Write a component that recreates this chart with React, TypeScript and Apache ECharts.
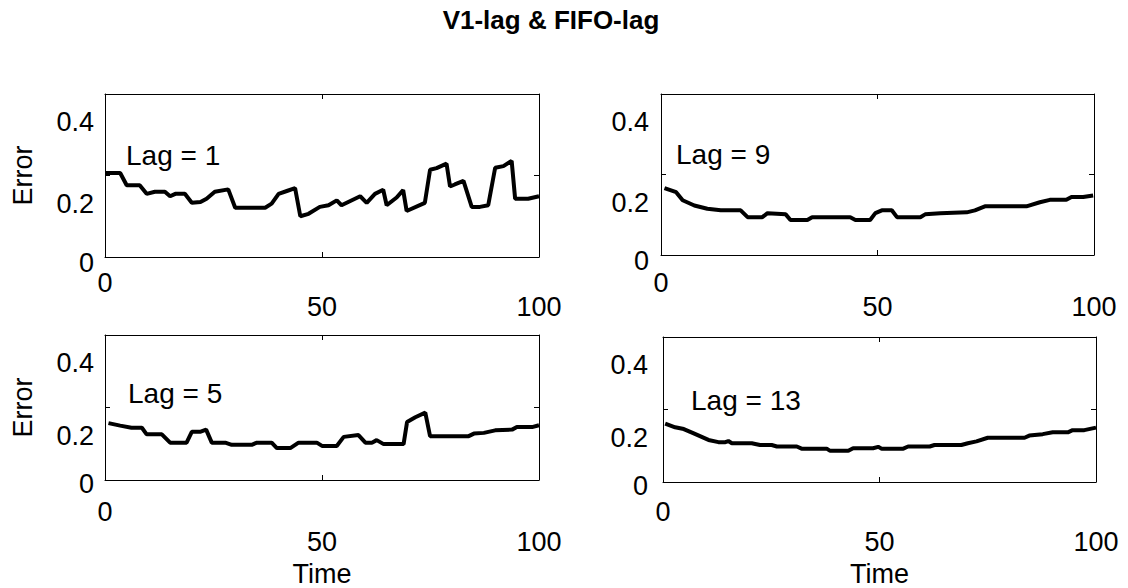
import React, { useEffect, useRef } from "react";
import * as echarts from "echarts";

const titleText = "V1-lag & FIFO-lag";
const xTicks = [0, 50, 100];
const yTicks = [0, 0.2, 0.4];
const panelLabels = ["Lag = 1", "Lag = 9", "Lag = 5", "Lag = 13"];
const yName = "Error";
const xName = "Time";

const lag1: [number, number][] = [
  [0, 0.206], [3.5, 0.206], [5, 0.176], [8, 0.176], [9.6, 0.155], [11.5, 0.16], [13.8, 0.16],
  [15, 0.149], [16.2, 0.155], [18.4, 0.155], [20, 0.133], [22, 0.135], [23.4, 0.143],
  [25.3, 0.16], [28.4, 0.166], [30, 0.121], [36.9, 0.121], [38.4, 0.131], [40, 0.155],
  [41.9, 0.162], [43.8, 0.169], [45, 0.1], [46.9, 0.106], [49.5, 0.123], [51.5, 0.127],
  [53.4, 0.139], [54.5, 0.127], [58.8, 0.149], [60.3, 0.133], [62.2, 0.155], [64.1, 0.165],
  [64.9, 0.127], [67.2, 0.146], [68.7, 0.164], [69.5, 0.113], [73.7, 0.133], [74.9, 0.214],
  [76.4, 0.218], [78.7, 0.229], [79.5, 0.173], [80.6, 0.178], [82.6, 0.187], [84.5, 0.123],
  [86.4, 0.123], [88.3, 0.127], [89.9, 0.219], [91.8, 0.223], [93.7, 0.236], [94.5, 0.143],
  [97.5, 0.143], [100, 0.149],
];

const lag9: [number, number][] = [
  [0.8, 0.166], [3.5, 0.156], [5, 0.136], [7.7, 0.123], [10.7, 0.115], [13.8, 0.111],
  [18.4, 0.111], [20, 0.094], [23.4, 0.094], [24.6, 0.104], [28.8, 0.101], [29.9, 0.087],
  [33.8, 0.087], [34.9, 0.094], [43.7, 0.094], [44.9, 0.087], [48.3, 0.087], [49.5, 0.104],
  [51, 0.111], [53.3, 0.111], [54.5, 0.094], [59.9, 0.094], [61, 0.101], [64.5, 0.104],
  [70.6, 0.106], [72.5, 0.111], [74.8, 0.121], [84.4, 0.121], [87.5, 0.131], [89.8, 0.137],
  [93.6, 0.137], [94.8, 0.144], [97.5, 0.144], [99.8, 0.148],
];

const lag5: [number, number][] = [
  [0.8, 0.157], [3.5, 0.15], [6.1, 0.144], [8.5, 0.144], [9.6, 0.126], [13.1, 0.126],
  [15, 0.103], [18.8, 0.103], [20, 0.133], [21.9, 0.133], [23.3, 0.139], [24.6, 0.103],
  [27.7, 0.103], [29.2, 0.097], [33.8, 0.097], [35, 0.103], [38.4, 0.103], [39.6, 0.088],
  [42.7, 0.088], [44.6, 0.103], [48.8, 0.103], [50, 0.094], [53.4, 0.094], [55, 0.119],
  [58.4, 0.124], [60, 0.103], [61.5, 0.103], [62.6, 0.11], [64.2, 0.099], [68.8, 0.099],
  [69.6, 0.16], [71.5, 0.173], [73.8, 0.186], [74.9, 0.121], [83.8, 0.121], [85, 0.128],
  [87.3, 0.13], [89.9, 0.137], [93.8, 0.139], [94.9, 0.146], [98.4, 0.146], [100, 0.151],
];

const lag13: [number, number][] = [
  [0.5, 0.161], [2.8, 0.151], [4.8, 0.146], [7.1, 0.134], [10.5, 0.116], [12.8, 0.11],
  [14.4, 0.11], [15.1, 0.113], [15.9, 0.107], [20.5, 0.107], [22.4, 0.102], [25.1, 0.102],
  [26.3, 0.098], [30.9, 0.098], [32, 0.092], [37.8, 0.092], [38.6, 0.086], [42.8, 0.086],
  [43.9, 0.093], [48.5, 0.093], [49.7, 0.097], [50.5, 0.092], [55.5, 0.092], [56.6, 0.098],
  [61.6, 0.098], [62.7, 0.102], [68.9, 0.102], [70.4, 0.107], [72.4, 0.112], [75, 0.122],
  [83.5, 0.122], [84.6, 0.128], [87.7, 0.132], [90, 0.137], [93.5, 0.137], [94.6, 0.143],
  [97.3, 0.143], [100, 0.15],
];

const panelData = [lag1, lag9, lag5, lag13];

// layout (pixels)
const grids = [
  { left: 105, top: 94, width: 434, height: 163 },
  { left: 661, top: 94, width: 433, height: 161 },
  { left: 105, top: 335, width: 434, height: 148 },
  { left: 663, top: 337, width: 433, height: 148 },
];
const yLabelMargin = [11, 12, 11, 15];
const yZeroPad = [12, 12, 8, 8];
const yOtherPad = [56, 56, 56, 56];
const xZeroMargin = [12, 14, 18, 16];
const xOtherPad = [24, 24, 30, 30];
const showYName = [true, false, true, false];
const showXName = [false, false, true, true];
const xNameGap = [0, 0, 80, 78];
const lagPos = [
  [126, 155],
  [676, 154],
  [128, 393],
  [691, 400],
];

const FONT = "'Liberation Sans', Arial, Helvetica, sans-serif";
const FS = 27;

function buildOption() {
  const xAxis: any[] = [];
  const yAxis: any[] = [];
  const series: any[] = [];
  const graphic: any[] = [];
  grids.forEach((g, i) => {
    const lineStyle = { color: "#000", width: 1 };
    xAxis.push({
      type: "value",
      gridIndex: i,
      min: xTicks[0],
      max: xTicks[xTicks.length - 1],
      interval: xTicks[1] - xTicks[0],
      position: "bottom",
      axisLine: { show: true, onZero: false, lineStyle },
      axisTick: { show: true, inside: true, length: 5, lineStyle },
      splitLine: { show: false },
      name: showXName[i] ? xName : "",
      nameLocation: "middle",
      nameGap: xNameGap[i],
      nameTextStyle: { fontSize: FS, color: "#000", fontFamily: FONT },
      axisLabel: {
        show: true,
        margin: xZeroMargin[i],
        color: "#000",
        fontSize: FS,
        fontFamily: FONT,
        formatter: (v: number) => (v === 0 ? `{z|${v}}` : `{n|${v}}`),
        rich: {
          z: { fontSize: FS, fontFamily: FONT, color: "#000" },
          n: { fontSize: FS, fontFamily: FONT, color: "#000", padding: [xOtherPad[i], 0, 0, 0] },
        },
      },
    });
    xAxis.push({
      type: "value",
      gridIndex: i,
      min: xTicks[0],
      max: xTicks[xTicks.length - 1],
      interval: xTicks[1] - xTicks[0],
      position: "top",
      axisLine: { show: true, onZero: false, lineStyle },
      axisTick: { show: true, inside: true, length: 5, lineStyle },
      axisLabel: { show: false },
      splitLine: { show: false },
    });
    yAxis.push({
      type: "value",
      gridIndex: i,
      min: yTicks[0],
      max: yTicks[yTicks.length - 1],
      interval: yTicks[1] - yTicks[0],
      position: "left",
      axisLine: { show: true, onZero: false, lineStyle },
      axisTick: { show: true, inside: true, length: 5, lineStyle },
      splitLine: { show: false },
      name: showYName[i] ? yName : "",
      nameLocation: "middle",
      nameRotate: 90,
      nameGap: 69,
      nameTextStyle: { fontSize: FS, color: "#000", fontFamily: FONT },
      axisLabel: {
        show: true,
        margin: yLabelMargin[i],
        color: "#000",
        fontSize: FS,
        fontFamily: FONT,
        formatter: (v: number) => (v === 0 ? `{z|0}` : `{n|${Math.round(v * 10) / 10}}`),
        rich: {
          z: { fontSize: FS, fontFamily: FONT, color: "#000", padding: [yZeroPad[i], 0, 0, 0] },
          n: { fontSize: FS, fontFamily: FONT, color: "#000", padding: [yOtherPad[i], 0, 0, 0] },
        },
      },
    });
    yAxis.push({
      type: "value",
      gridIndex: i,
      min: yTicks[0],
      max: yTicks[yTicks.length - 1],
      interval: yTicks[1] - yTicks[0],
      position: "right",
      axisLine: { show: true, onZero: false, lineStyle },
      axisTick: { show: true, inside: true, length: 5, lineStyle },
      axisLabel: { show: false },
      splitLine: { show: false },
    });
    series.push({
      type: "line",
      xAxisIndex: 2 * i,
      yAxisIndex: 2 * i,
      data: panelData[i],
      showSymbol: false,
      symbol: "none",
      lineStyle: { color: "#000", width: 4 },
      silent: true,
    });
    graphic.push({
      type: "text",
      x: lagPos[i][0],
      y: lagPos[i][1],
      style: {
        text: panelLabels[i],
        fill: "#000",
        font: `${28}px ${FONT}`,
        textAlign: "left",
        textVerticalAlign: "middle",
      },
    });
  });

  return {
    animation: false,
    backgroundColor: "#fff",
    textStyle: { fontFamily: FONT },
    title: {
      text: titleText,
      left: 551,
      top: 7,
      padding: 0,
      textAlign: "center",
      textStyle: { fontSize: 26, fontWeight: "bold", color: "#000", fontFamily: FONT },
    },
    grid: grids.map((g) => ({ ...g, containLabel: false })),
    xAxis,
    yAxis,
    series,
    graphic,
  };
}

export default function App() {
  const ref = useRef<HTMLDivElement>(null);
  useEffect(() => {
    if (!ref.current) return;
    const chart = echarts.init(ref.current, null, { renderer: "svg" });
    chart.setOption(buildOption() as any);
    return () => chart.dispose();
  }, []);
  return (
    <div
      ref={ref}
      style={{ position: "fixed", left: 0, top: 0, width: 1128, height: 588, background: "#fff" }}
    />
  );
}
